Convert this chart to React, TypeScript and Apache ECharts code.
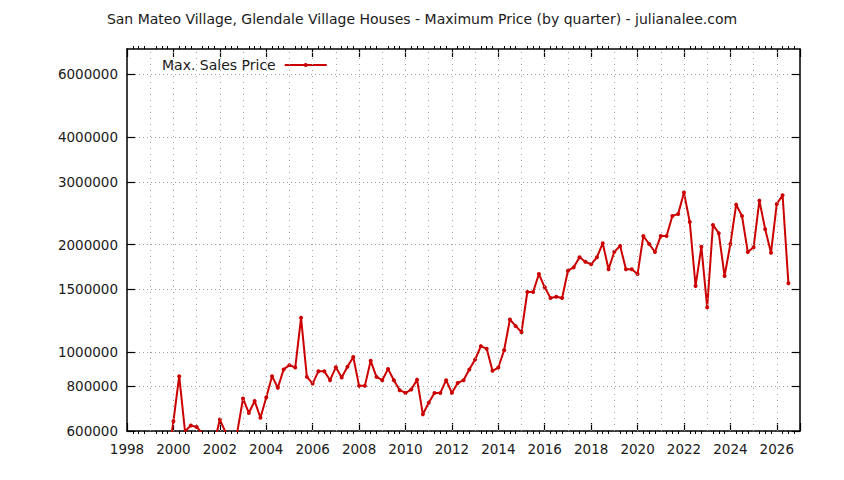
import { useEffect, useRef } from "react";
import * as echarts from "echarts";

const TITLE =
  "San Mateo Village, Glendale Village Houses - Maximum Price (by quarter) - julianalee.com";
const SERIES_NAME = "Max. Sales Price";

// one value per quarter, starting with 1999 Q4
const firstQuarter = { year: 1999, quarter: 4 };
const maxPrice = [
  490000,
  639000, 855000, 598000, 622000, // 2000
  616000, 590000, 560000, 550000, // 2001
  646000, 595000, 560000, 595000, // 2002
  740000, 674000, 728000, 654000, // 2003
  745000, 855000, 793000, 893000, // 2004
  918000, 904000, 1246000, 851000, // 2005
  815000, 883000, 883000, 833000, // 2006
  906000, 848000, 908000, 968000, // 2007
  803000, 803000, 944000, 851000, // 2008
  833000, 896000, 833000, 781000, // 2009
  767000, 784000, 836000, 668000, // 2010
  720000, 767000, 767000, 833000, // 2011
  767000, 818000, 833000, 893000, // 2012
  952000, 1038000, 1020000, 885000, // 2013
  904000, 1011000, 1233000, 1181000, // 2014
  1136000, 1472000, 1472000, 1653000, // 2015
  1517000, 1416000, 1427000, 1416000, // 2016
  1689000, 1726000, 1842000, 1790000, // 2017
  1760000, 1842000, 2017000, 1705000, // 2018
  1910000, 1982000, 1705000, 1705000, // 2019
  1653000, 2114000, 2007000, 1906000, // 2020
  2114000, 2114000, 2406000, 2437000, // 2021
  2797000, 2314000, 1530000, 1973000, // 2022
  1333000, 2270000, 2151000, 1632000, // 2023
  2007000, 2588000, 2406000, 1906000, // 2024
  1965000, 2656000, 2207000, 1897000, // 2025
  2600000, 2750000, 1557000, // 2026
];

const yearTicks = [
  1998, 2000, 2002, 2004, 2006, 2008, 2010, 2012, 2014, 2016, 2018, 2020, 2022,
  2024, 2026,
];
const priceTicks = [
  600000, 800000, 1000000, 1500000, 2000000, 3000000, 4000000, 6000000,
];

const X_MIN = 1998;
const X_MAX = 2027;
const Y_MIN = 600000;
const Y_MAX = 7070000;

const FONT = "DejaVu Sans";
const RED = "#cc0000";
const INK = "#1a1a1a";
const AXIS_LINE = { color: "#000", width: 1.5 };
const GRID_V = { color: "#a0a0a0", width: 1, type: [1, 5] as number[] };
const GRID_H = { color: "#a0a0a0", width: 1, type: [1, 3] as number[] };

function xAxisBase(position: "top" | "bottom", interval: number) {
  return {
    type: "value" as const,
    min: X_MIN,
    max: X_MAX,
    interval,
    position,
    axisLine: { show: false, onZero: false },
    axisTick: { show: false },
    axisLabel: { show: false },
    splitLine: { show: false },
    minorTick: { show: false },
    minorSplitLine: { show: false },
  };
}

function yTickAxis(position: "left" | "right") {
  const logTicks = priceTicks.map((v) => Math.log10(v));
  return {
    type: "value" as const,
    min: Math.log10(Y_MIN),
    max: Math.log10(Y_MAX),
    position,
    axisLine: { show: true, onZero: false, lineStyle: AXIS_LINE },
    axisTick: {
      show: true,
      inside: true,
      length: 8,
      customValues: logTicks,
      lineStyle: { color: "#000", width: 1.2 },
    },
    axisLabel: {
      show: position === "left",
      customValues: logTicks,
      margin: 9,
      fontFamily: FONT,
      fontSize: 13.5,
      color: INK,
      formatter: (v: number) => String(Math.round(Math.pow(10, v))),
    },
    splitLine: { show: position === "left", lineStyle: GRID_H },
    minorSplitLine: { show: false },
  };
}

const minorTicks = { show: true, splitNumber: 4, length: 3, lineStyle: { color: "#000" } };
const majorTicks = { show: true, inside: true, length: 8, lineStyle: { color: "#000", width: 1.2 } };

export default function App() {
  const rootRef = useRef<HTMLDivElement>(null);

  useEffect(() => {
    if (!rootRef.current) return;
    const chart = echarts.init(rootRef.current, undefined, {
      renderer: "svg",
      width: 844,
      height: 480,
    });

    const points = maxPrice.map((v, i) => [
      firstQuarter.year + (firstQuarter.quarter - 1 + i) * 0.25,
      v,
    ]);

    // one dotted vertical grid line per year inside the frame
    const gridYears: number[] = [];
    for (let y = X_MIN + 1; y < X_MAX; y++) gridYears.push(y);

    chart.setOption({
      animation: false,
      backgroundColor: "#ffffff",
      textStyle: { fontFamily: FONT },
      title: {
        text: TITLE,
        left: "center",
        top: 7,
        textStyle: { fontFamily: FONT, fontSize: 14, fontWeight: "normal", color: INK },
      },
      legend: {
        data: [SERIES_NAME],
        left: 157,
        top: 53,
        align: "right",
        itemWidth: 42,
        itemHeight: 5,
        textStyle: { fontFamily: FONT, fontSize: 14, color: INK, padding: [0, 4, 0, 0] },
      },
      grid: {
        left: 127,
        right: 44,
        top: 49,
        bottom: 49,
        containLabel: false,
        outerBoundsMode: "none",
      },
      xAxis: [
        {
          ...xAxisBase("bottom", 1),
          axisLine: { show: true, onZero: false, lineStyle: AXIS_LINE },
          axisLabel: {
            show: true,
            margin: 11,
            fontFamily: FONT,
            fontSize: 13.5,
            color: INK,
            formatter: (v: number) => (yearTicks.includes(v) ? String(v) : ""),
          },
          minorTick: minorTicks,
        },
        { ...xAxisBase("bottom", 2), axisTick: majorTicks },
        {
          ...xAxisBase("top", 1),
          axisLine: { show: true, onZero: false, lineStyle: AXIS_LINE },
          minorTick: minorTicks,
        },
        { ...xAxisBase("top", 2), axisTick: majorTicks },
      ],
      yAxis: [
        {
          type: "log",
          logBase: 10,
          min: Y_MIN,
          max: Y_MAX,
          show: false,
        },
        yTickAxis("left"),
        yTickAxis("right"),
      ],
      series: [
        {
          name: "grid",
          type: "line",
          xAxisIndex: 0,
          yAxisIndex: 0,
          data: [],
          silent: true,
          markLine: {
            silent: true,
            symbol: "none",
            label: { show: false },
            lineStyle: GRID_V,
            emphasis: { disabled: true },
            data: gridYears.map((y) => ({ xAxis: y })),
          },
        },
        {
          name: SERIES_NAME,
          type: "line",
          xAxisIndex: 0,
          yAxisIndex: 0,
          data: points,
          clip: true,
          symbol: "circle",
          symbolSize: 4,
          showSymbol: true,
          itemStyle: { color: RED },
          lineStyle: { color: RED, width: 2 },
          emphasis: { disabled: true },
        },
      ],
    });

    return () => {
      chart.dispose();
    };
  }, []);

  return (
    <div
      ref={rootRef}
      style={{ position: "absolute", left: 0, top: 0, width: 844, height: 480, background: "#fff" }}
    />
  );
}
